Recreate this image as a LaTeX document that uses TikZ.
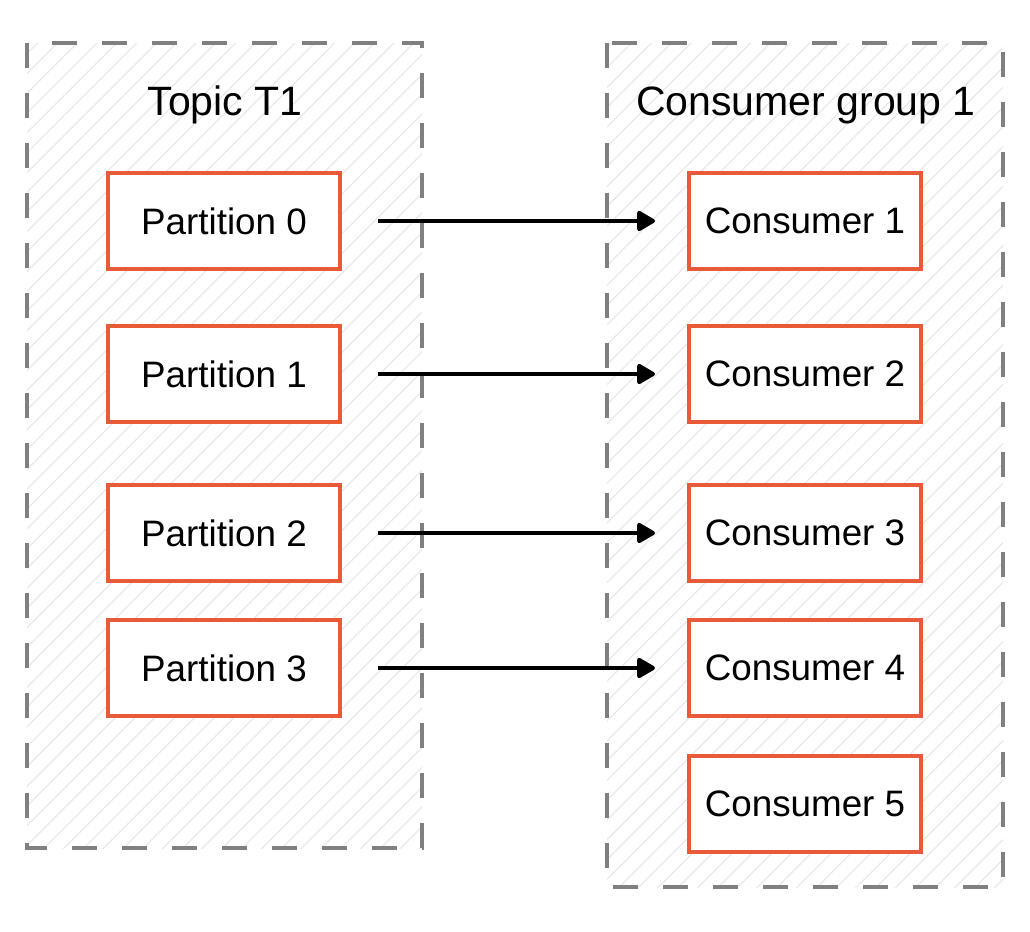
\documentclass[tikz,border=0pt]{standalone}
\usepackage{fontspec}
\setmainfont{Liberation Sans}
\usetikzlibrary{arrows.meta,patterns.meta}
\definecolor{boxred}{HTML}{E85A38}
\definecolor{grouplines}{HTML}{808080}
\begin{document}
\begin{tikzpicture}
  [x=0.5pt,y=-0.5pt,
   group/.style={draw=grouplines,line width=2pt,dash pattern=on 12.5pt off 12.5pt,
     pattern={Lines[angle=45,distance=7pt,line width=0.6pt]},pattern color=black!9},
   title/.style={font=\fontsize{20.5}{24}\selectfont},
   part/.style={draw=boxred,fill=white,line width=2pt,minimum width=116pt,minimum height=48pt,
     inner sep=0pt,font=\fontsize{18.4}{22}\selectfont},
   flow/.style={line width=2pt,-{Triangle[round,length=10pt,width=11pt]},shorten <=18pt,shorten >=16pt}]
  \useasboundingbox (0,0) rectangle (1030,932);

  % dashed groups
  \draw[group] (27,43) rectangle (422,848);
  \draw[group] (607,43) rectangle (1003,887);
  \node[title] (topic) at (225,105) {Topic T1};
  \node[title] (group) at (806,105) {Consumer group 1};

  \foreach \i/\y in {0/221,1/374,2/533,3/668}
    \node[part] (p\i) at (224,\y) {Partition \i};
  \foreach \i/\y in {1/221,2/374,3/533,4/668,5/804}
    \node[part] (c\i) at (805,\y) {Consumer \i};

  \foreach \from/\to in {p0/c1,p1/c2,p2/c3,p3/c4}
    \draw[flow] (\from) -- (\to);

\end{tikzpicture}
\end{document}
